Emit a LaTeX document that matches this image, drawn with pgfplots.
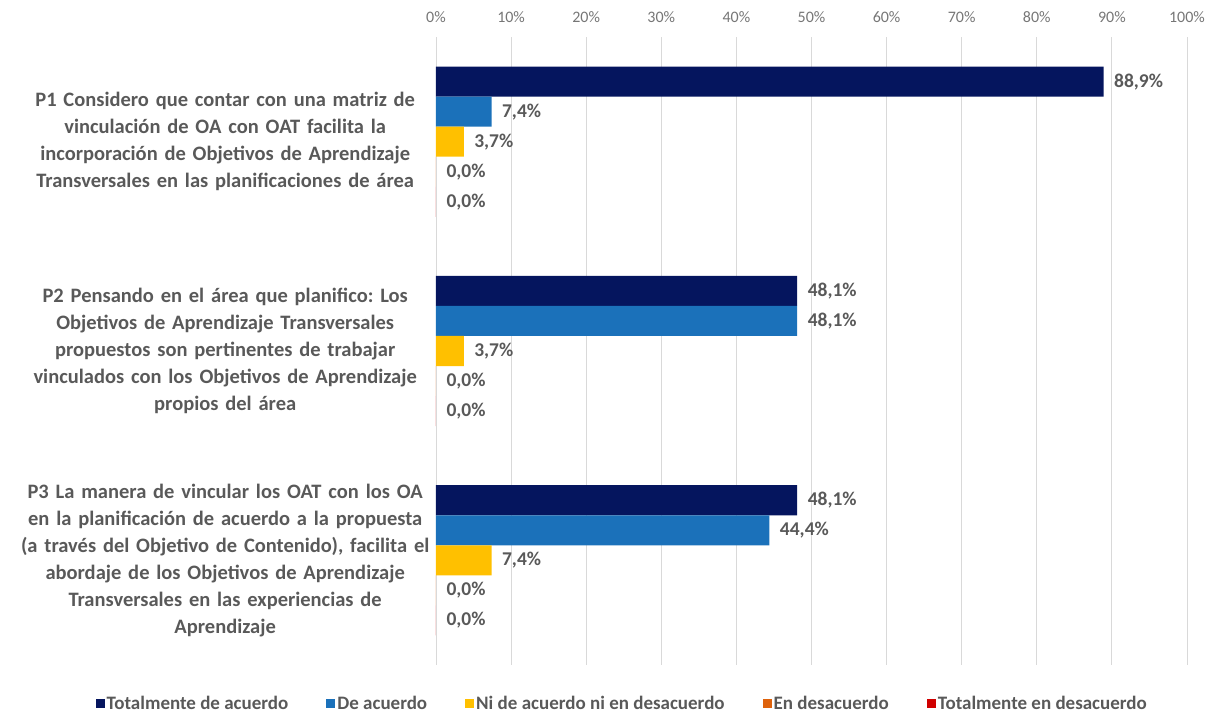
\documentclass[border=0pt]{standalone}
\usepackage{pgfplots}
\pgfplotsset{compat=1.18}
\usepackage{fontspec}
\setmainfont{Carlito}
\frenchspacing
\definecolor{cTA}{RGB}{5,21,94}
\definecolor{cDA}{RGB}{27,113,186}
\definecolor{cNI}{RGB}{255,192,0}
\definecolor{cED}{RGB}{222,98,12}
\definecolor{cTD}{RGB}{208,0,0}
\definecolor{txt}{RGB}{89,89,89}
\definecolor{tck}{RGB}{118,118,118}
\definecolor{grd}{RGB}{217,217,217}
\begin{document}
\begin{tikzpicture}
\begin{axis}[
  scale only axis,
  width=751pt, height=628pt,
  xbar, bar width=0.1435,
  xmin=0, xmax=100,
  ymin=-0.5, ymax=2.5,
  y dir=reverse,
  xtick={0,10,...,100},
  xticklabel={\pgfmathprintnumber{\tick}\%},
  xticklabel pos=right,
  xticklabel style={font=\fontsize{16}{18}\selectfont, text=tck, yshift=11pt},
  /pgf/number format/assume math mode=true,
  xmajorgrids, grid style={grd, line width=0.9pt},
  axis line style={draw=none},
  major tick style={draw=none},
  ytick={0,1,2},
  yticklabels={
    {P1 Considero que contar con una matriz de\\vinculación de OA con OAT facilita la\\incorporación de Objetivos de Aprendizaje\\Transversales en las planificaciones de área},
    {P2 Pensando en el área que planifico: Los\\Objetivos de Aprendizaje Transversales\\propuestos son pertinentes de trabajar\\vinculados con los Objetivos de Aprendizaje\\propios del área},
    {P3 La manera de vincular los OAT con los OA\\en la planificación de acuerdo a la propuesta\\(a través del Objetivo de Contenido), facilita el\\abordaje de los Objetivos de Aprendizaje\\Transversales en las experiencias de\\Aprendizaje}},
  yticklabel style={align=center, text width=420pt, font=\fontsize{20.5}{27}\selectfont\bfseries, text=txt, xshift=7pt},
  nodes near coords={\pgfmathprintnumber[fixed,fixed zerofill,precision=1,use comma]{\pgfplotspointmeta}\%},
  nodes near coords style={font=\fontsize{19.5}{21}\selectfont\bfseries, text=txt, anchor=west, xshift=7pt},
  point meta=x,
  legend columns=5,
  legend style={draw=none, fill=none, at={(0.248,-0.062)}, anchor=center,
    font=\fontsize{19}{21}\selectfont\bfseries, text=txt,
    /tikz/every even column/.append style={column sep=36pt}},
  legend image code/.code={\fill[#1] (0pt,-4.5pt) rectangle (9pt,4.5pt);},
  clip=false,
]
\addplot[fill=cTA, draw=none, bar shift=-0.287] coordinates {(88.9,0) (48.1,1) (48.1,2)};
\addplot[fill=cDA, draw=none, bar shift=-0.1435] coordinates {(7.4,0) (48.1,1) (44.4,2)};
\addplot[fill=cNI, draw=none, bar shift=0] coordinates {(3.7,0) (3.7,1) (7.4,2)};
\addplot[fill=cED, draw=none, bar shift=0.1435] coordinates {(0,0) (0,1) (0,2)};
\addplot[fill=cTD, draw=none, bar shift=0.287] coordinates {(0,0) (0,1) (0,2)};
\legend{Totalmente de acuerdo, De acuerdo, Ni de acuerdo ni en desacuerdo, En desacuerdo, Totalmente en desacuerdo}
\coordinate (BL) at (axis cs:0,2.5);
\coordinate (TR) at (axis cs:100,-0.5);
\end{axis}
\pgfresetboundingbox
\path[use as bounding box] ([shift={(-436pt,-52pt)}]BL) rectangle ([shift={(29pt,37pt)}]TR);
\end{tikzpicture}
\end{document}
